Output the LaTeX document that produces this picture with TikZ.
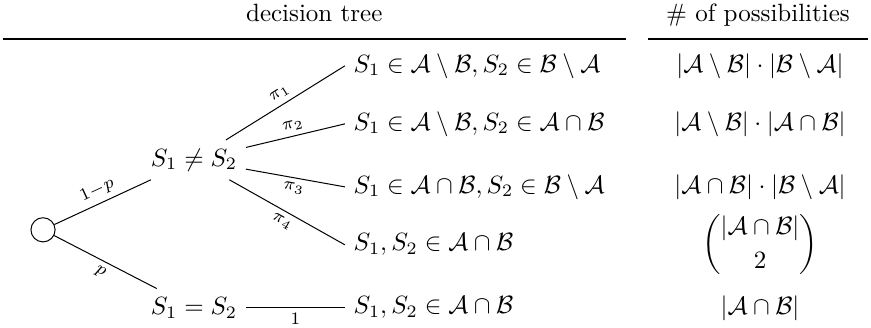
\documentclass[tikz,border=0pt]{standalone}
\usepackage{amsmath}
\usepackage{amssymb}

\begin{document}
\begin{tikzpicture}[
    root/.style={draw, circle, minimum size=0.34cm, inner sep=0pt},
    leaf/.style={anchor=west},
    header/.style={minimum width=#1, text height=1.5ex, text depth=.25ex, inner xsep=0pt, inner ysep=5.7pt, anchor=south},
    prob/.style={font=\scriptsize, sloped, inner sep=2pt},
    rule/.style={semithick},
]
\useasboundingbox (0,0) rectangle (12.25,4.61);

% column headers
\node[header=8.75cm] (hdtree) at (4.42,4.063) {decision tree};
\node[header=3.09cm] (hdcount) at (10.66,4.063) {\# of possibilities};
\draw[rule] (hdtree.south west) -- (hdtree.south east);
\draw[rule] (hdcount.south west) -- (hdcount.south east);

% tree
\node[root] (start) at (0.605,1.378) {};
\node (neq) at (2.728,2.362) {$S_1 \neq S_2$};
\node (eq) at (2.728,0.281) {$S_1 = S_2$};

\node[leaf] (ab) at (4.85,3.684) {$S_1 \in \mathcal{A}\setminus\mathcal{B}, S_2 \in \mathcal{B}\setminus\mathcal{A}$};
\node[leaf] (ai) at (4.85,2.868) {$S_1 \in \mathcal{A}\setminus\mathcal{B}, S_2 \in \mathcal{A}\cap\mathcal{B}$};
\node[leaf] (ib) at (4.85,1.982) {$S_1 \in \mathcal{A}\cap\mathcal{B}, S_2 \in \mathcal{B}\setminus\mathcal{A}$};
\node[leaf] (ii) at (4.85,1.167) {$S_1, S_2 \in \mathcal{A}\cap\mathcal{B}$};
\node[leaf] (same) at (4.85,0.281) {$S_1, S_2 \in \mathcal{A}\cap\mathcal{B}$};

% counts
\node (cntab) at (10.69,3.684) {$|\mathcal{A}\setminus\mathcal{B}| \cdot |\mathcal{B}\setminus\mathcal{A}|$};
\node (cntai) at (10.69,2.868) {$|\mathcal{A}\setminus\mathcal{B}| \cdot |\mathcal{A}\cap\mathcal{B}|$};
\node (cntib) at (10.69,1.982) {$|\mathcal{A}\cap\mathcal{B}| \cdot |\mathcal{B}\setminus\mathcal{A}|$};
\node (cntii) at (10.69,1.167) {$\dbinom{|\mathcal{A}\cap\mathcal{B}|}{2}$};
\node (cntsame) at (10.69,0.281) {$|\mathcal{A}\cap\mathcal{B}|$};

\draw (start) -- node[prob, above] {$1{-}p$} (neq);
\draw (start) -- node[prob, below] {$p$} (eq);
\draw (neq) -- node[prob, above] {$\pi_1$} (ab.west);
\draw (neq) -- node[prob, above] {$\pi_2$} (ai.west);
\draw (neq) -- node[prob, below] {$\pi_3$} (ib.west);
\draw (neq) -- node[prob, below] {$\pi_4$} (ii.west);
\draw (eq) -- node[prob, below] {$1$} (same.west);
\end{tikzpicture}
\end{document}
